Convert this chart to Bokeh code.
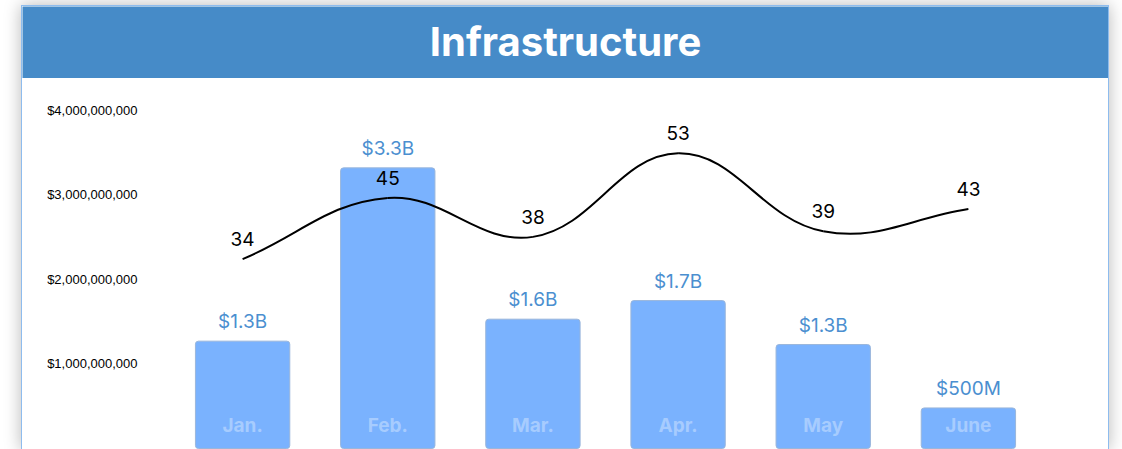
import numpy as np
from bokeh.plotting import figure
from bokeh.models import Range1d, FixedTicker, NumeralTickFormatter, Spacer
from bokeh.layouts import column, row
from bokeh.embed import file_html
from bokeh.resources import INLINE
from bokeh.core.properties import value

# ---------------- data ----------------
title_text = "Infrastructure"
months = ["Jan.", "Feb.", "Mar.", "Apr.", "May", "June"]
spend = [1.27e9, 3.32e9, 1.53e9, 1.75e9, 1.23e9, 0.48e9]
spend_labels = ["$1.3B", "$3.3B", "$1.6B", "$1.7B", "$1.3B", "$500M"]
projects = [34, 45, 38, 53, 39, 43]
y_ticks = [1e9, 2e9, 3e9, 4e9]

# ---------------- styles ----------------
BLUE = "#468bc8"
BAR = "#7ab2fe"
LABEL_BLUE = "#4b8fd0"
FONT = "Inter"
W = 1086

idx = np.arange(len(months), dtype=float)

# ---------------- title bar ----------------
tf = figure(width=W, height=72, output_backend="svg", toolbar_location=None,
            x_axis_location=None, y_axis_location=None, min_border=0,
            x_range=Range1d(0, 1), y_range=Range1d(0, 1),
            background_fill_color=BLUE, border_fill_color=BLUE,
            outline_line_color=None)
tf.frame_align = False
tf.grid.visible = False
tf.text(x=[0.5], y=[0.52], text=[title_text], text_align="center",
        text_baseline="middle", text_color="white", text_font=value(FONT),
        text_font_size="40px", text_font_style="bold")

# ---------------- main chart ----------------
p = figure(width=W, height=371, output_backend="svg", toolbar_location=None,
           x_range=Range1d(-0.669, 5.917), y_range=Range1d(-0.0118e9, 4.259e9),
           x_axis_location=None,
           min_border_left=123, min_border_right=7, min_border_top=10, min_border_bottom=0,
           background_fill_color="white", border_fill_color="white",
           outline_line_color=None)
p.frame_align = False
p.extra_y_ranges = {"count": Range1d(-0.18, 64.64)}
p.grid.visible = False

ax = p.yaxis[0]
ax.ticker = FixedTicker(ticks=y_ticks)
ax.formatter = NumeralTickFormatter(format="$0,0")
ax.axis_line_color = None
ax.major_tick_line_color = None
ax.minor_tick_line_color = None
ax.major_tick_out = 0
ax.major_tick_in = 0
ax.major_label_standoff = 8
ax.major_label_text_font = "Liberation Sans"
ax.major_label_text_font_size = "13px"
ax.major_label_text_color = "black"

# bars
p.vbar(x=idx, top=spend, width=0.65, bottom=0, fill_color=BAR,
       line_color="#9ab6db", line_width=1, border_radius=3)

# value labels above bars
p.text(x=idx, y=spend, text=spend_labels, text_align="center",
       text_baseline="bottom", y_offset=-8, text_color=LABEL_BLUE,
       text_font=value(FONT), text_font_size="19px")

# month labels inside bars
p.text(x=idx, y=[0] * len(months), text=months, text_align="center",
       text_baseline="middle", y_offset=-23, text_color="white", text_alpha=0.35,
       text_font=value(FONT), text_font_size="19px", text_font_style="bold")

# smooth line (Chart.js-like spline, tension 0.4)
t = 0.4
sx, sy = 145.0, 5.6
yv = np.array(projects, dtype=float)
n = len(idx)


def cps(i):
    prev = max(i - 1, 0)
    nxt = min(i + 1, n - 1)
    d01 = np.hypot((idx[i] - idx[prev]) * sx, (yv[i] - yv[prev]) * sy)
    d12 = np.hypot((idx[nxt] - idx[i]) * sx, (yv[nxt] - yv[i]) * sy)
    tot = d01 + d12
    fa = t * d01 / tot
    fb = t * d12 / tot
    dx = idx[nxt] - idx[prev]
    dy = yv[nxt] - yv[prev]
    return (idx[i] - fa * dx, yv[i] - fa * dy), (idx[i] + fb * dx, yv[i] + fb * dy)


cp = [cps(i) for i in range(n)]
p.bezier(x0=idx[:-1], y0=yv[:-1], x1=idx[1:], y1=yv[1:],
         cx0=[cp[i][1][0] for i in range(n - 1)], cy0=[cp[i][1][1] for i in range(n - 1)],
         cx1=[cp[i + 1][0][0] for i in range(n - 1)], cy1=[cp[i + 1][0][1] for i in range(n - 1)],
         line_color="black", line_width=2, y_range_name="count")

# count labels
p.text(x=idx, y=projects, text=[str(v) for v in projects], text_align="center",
       text_baseline="bottom", y_offset=-13, text_color="black",
       text_font=value(FONT), text_font_size="19px", y_range_name="count")

card = column(tf, p, styles={"border": "1px solid #8ebcee",
                             "box-shadow": "0 0 16px rgba(0,0,0,0.28)"})
layout = column(Spacer(width=10, height=5), row(Spacer(width=21, height=10), card))

open("out.html", "w").write(file_html(layout, INLINE))
